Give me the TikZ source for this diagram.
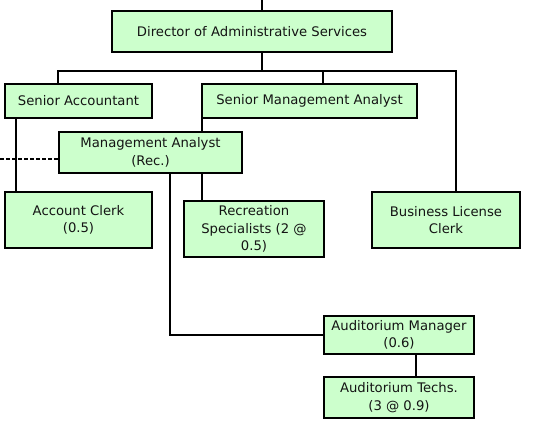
\documentclass[tikz,border=0pt]{standalone}
\usepackage{fontspec}
\setmainfont{DejaVu Sans}
\usetikzlibrary{backgrounds}
\definecolor{boxgreen}{HTML}{CCFFCC}
\definecolor{txt}{HTML}{141414}
\tikzset{
  orgbox/.style={draw=black, fill=boxgreen, line width=2pt, rectangle, inner sep=0pt,
    align=center, text=txt, font=\fontsize{13.2}{17.5}\selectfont},
  link/.style={draw=black, line width=2pt},
  dashlink/.style={draw=black, line width=1.5pt, dash pattern=on 4.3pt off 1.7pt}
}
\begin{document}
\begin{tikzpicture}[x=1pt,y=-1pt]
\useasboundingbox (0,0) rectangle (539,425);
\node[orgbox, minimum width=280pt, minimum height=41pt] (dir) at (252,31.5) {Director of Administrative Services};
\node[orgbox, minimum width=147pt, minimum height=34pt] (sa) at (78.5,101) {Senior Accountant};
\node[orgbox, minimum width=215pt, minimum height=34pt] (sma) at (309.5,101) {Senior Management Analyst};
\node[orgbox, minimum width=183pt, minimum height=41pt] (ma) at (150.5,152.5) {Management Analyst\\(Rec.)};
\node[orgbox, minimum width=147pt, minimum height=56pt] (ac) at (78.5,220) {Account Clerk\\(0.5)};
\node[orgbox, minimum width=140pt, minimum height=56pt] (rs) at (254,229) {Recreation\\Specialists (2 @\\0.5)};
\node[orgbox, minimum width=148pt, minimum height=56pt] (blc) at (446,220) {Business License\\Clerk};
\node[orgbox, minimum width=150pt, minimum height=38pt] (am) at (399,335) {Auditorium Manager\\(0.6)};
\node[orgbox, minimum width=150pt, minimum height=41pt] (at) at (399,397.5) {Auditorium Techs.\\(3 @ 0.9)};
\coordinate (top) at (262,0);
\coordinate (bar) at (262,71);
\coordinate (barL) at (58,71);
\coordinate (barR) at (456,71);
\coordinate (smax) at (323,71);
\coordinate (acx) at (16,0);
\coordinate (rsx) at (202,0);
\coordinate (amx) at (170,0);
\coordinate (amy) at (0,335);
\coordinate (atx) at (416,0);
\coordinate (dashL) at (0,159);
\begin{scope}[on background layer]
\draw[link] (top) -- (top |- dir.north);
\draw[link] (top |- dir.south) -- (bar);
\draw[link] (barL |- sa.north) -- (barL) -- (barR) -- (barR |- blc.north);
\draw[link] (smax) -- (smax |- sma.north);
\draw[link] (acx |- sa.south) -- (acx |- ac.north);
\draw[link] (rsx |- sma.south) -- (rsx |- rs.north);
\draw[link] (amx |- ma.south) -- (amx |- amy) -- (amy -| am.west);
\draw[link] (atx |- am.south) -- (atx |- at.north);
\draw[dashlink] (dashL) -- (dashL -| ma.west);
\end{scope}
\end{tikzpicture}
\end{document}
